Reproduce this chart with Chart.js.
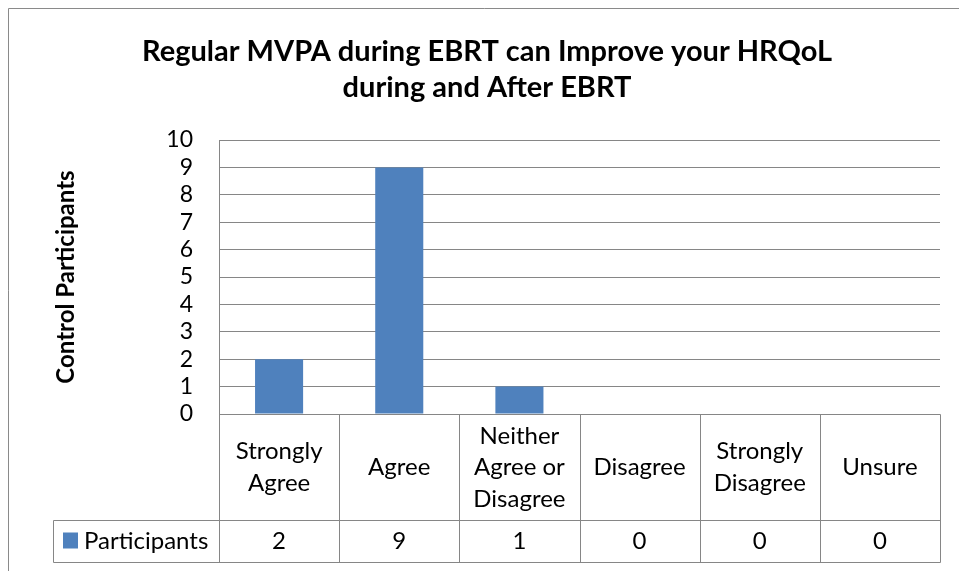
<!DOCTYPE html>
<html>
<head>
<meta charset="utf-8">
<script src="https://cdn.jsdelivr.net/npm/chart.js@4.4.1/dist/chart.umd.min.js"></script>
<style>
  html, body { margin: 0; padding: 0; background: #fff; }
  #wrap { width: 959px; height: 571px; position: relative; }
</style>
</head>
<body>
<div id="wrap"><canvas id="chart"></canvas></div>
<script>
// Données du graphique
const categories = [
    ['Strongly', 'Agree'],
    'Agree',
    ['Neither', 'Agree or', 'Disagree'],
    'Disagree',
    ['Strongly', 'Disagree'],
    'Unsure'
];
const participants = [2, 9, 1, 0, 0, 0];
const seriesName = 'Participants';
const yTicks = [0, 1, 2, 3, 4, 5, 6, 7, 8, 9, 10];
const titleLines = ['Regular MVPA during EBRT can Improve your HRQoL', 'during and After EBRT'];

const FONT = 'Lato, "Liberation Sans", sans-serif';
const BAR = '#4F81BD';
const GRID = '#868686';

// Cadre extérieur + titre (style Excel)
const frame = {
    id: 'frame',
    beforeDraw(chart) {
        const ctx = chart.ctx;
        ctx.save();
        ctx.fillStyle = '#fff';
        ctx.fillRect(0, 0, chart.width, chart.height);
        ctx.strokeStyle = '#8a8a8a';
        ctx.lineWidth = 1;
        ctx.beginPath();
        ctx.moveTo(8.5, chart.height + 2);
        ctx.lineTo(8.5, 8.5);
        ctx.lineTo(chart.width + 2, 8.5);
        ctx.stroke();

        ctx.fillStyle = '#000';
        ctx.font = 'bold 29px ' + FONT;
        ctx.textAlign = 'center';
        ctx.textBaseline = 'middle';
        titleLines.forEach((t, i) => ctx.fillText(t, 487, 52 + i * 36));
        ctx.restore();
    }
};

// Tableau de données sous le graphique
const dataTable = {
    id: 'dataTable',
    afterDraw(chart) {
        const { ctx, chartArea: a, scales: { x } } = chart;
        const half = (x.getPixelForValue(1) - x.getPixelForValue(0)) / 2;
        const top = Math.round(a.bottom) + 0.5;
        const mid = top + 106;
        const bottom = mid + 42;
        const tableLeft = 53.5;
        const right = Math.round(x.getPixelForValue(categories.length - 1) + half) + 0.5;

        ctx.save();
        ctx.strokeStyle = GRID;
        ctx.lineWidth = 1;
        ctx.beginPath();
        // lignes horizontales
        ctx.moveTo(Math.round(a.left) + 0.5, top); ctx.lineTo(right, top);
        ctx.moveTo(tableLeft, mid); ctx.lineTo(right, mid);
        ctx.moveTo(tableLeft, bottom); ctx.lineTo(right, bottom);
        ctx.moveTo(tableLeft, mid); ctx.lineTo(tableLeft, bottom);
        // lignes verticales
        for (let i = 0; i <= categories.length; i++) {
            const px = Math.round(x.getPixelForValue(i) - half) + 0.5;
            ctx.moveTo(px, top); ctx.lineTo(px, bottom);
        }
        ctx.stroke();

        ctx.fillStyle = '#000';
        ctx.font = '24px ' + FONT;
        ctx.textAlign = 'center';
        ctx.textBaseline = 'middle';
        const lh = 31.5;
        categories.forEach((c, i) => {
            const lines = Array.isArray(c) ? c : [c];
            const cx = x.getPixelForValue(i);
            const cy = (top + mid) / 2;
            lines.forEach((l, j) => {
                ctx.fillText(l, cx, cy + (j - (lines.length - 1) / 2) * lh);
            });
            ctx.fillText(String(participants[i]), cx, (mid + bottom) / 2);
        });

        // légende
        ctx.fillStyle = BAR;
        ctx.fillRect(63, mid + 12, 15, 16);
        ctx.fillStyle = '#000';
        ctx.textAlign = 'left';
        ctx.fillText(seriesName, 84, (mid + bottom) / 2);
        ctx.restore();
    }
};

new Chart(document.getElementById('chart'), {
    type: 'bar',
    data: {
        labels: categories,
        datasets: [{
            label: seriesName,
            data: participants,
            backgroundColor: BAR,
            borderWidth: 0,
            barPercentage: 0.4,
            categoryPercentage: 1
        }]
    },
    options: {
        responsive: true,
        maintainAspectRatio: false,
        animation: false,
        layout: { padding: { top: 140, left: 0, right: 19, bottom: 157 } },
        plugins: {
            legend: { display: false },
            tooltip: { enabled: false },
            title: { display: false }
        },
        scales: {
            x: {
                display: false
            },
            y: {
                min: 0,
                max: 10,
                afterBuildTicks: s => { s.ticks = yTicks.map(v => ({ value: v })); },
                afterFit: s => { s.width = 219; },
                grid: { color: GRID, drawTicks: false },
                border: { color: GRID },
                ticks: {
                    color: '#000',
                    padding: 26,
                    autoSkip: false,
                    font: { family: FONT, size: 23 }
                },
                title: {
                    display: true,
                    text: 'Control Participants',
                    color: '#000',
                    font: { family: FONT, size: 24, weight: 'bold' },
                    padding: { top: 52 }
                }
            }
        }
    },
    plugins: [frame, dataTable]
});
</script>
</body>
</html>
